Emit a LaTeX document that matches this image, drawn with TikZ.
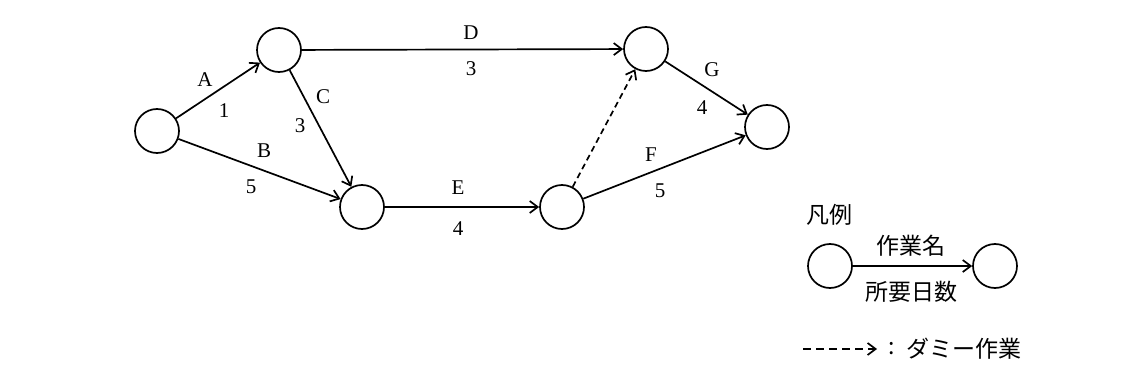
\documentclass[tikz,border=0pt]{standalone}
\usepackage{fontspec}
\setmainfont{Liberation Serif}
\newfontfamily\cjk{Noto Sans CJK JP}
\usetikzlibrary{arrows.meta}
\begin{document}
\begin{tikzpicture}[x=1pt,y=-1pt,
  ev/.style={circle,draw,line width=1.7pt,minimum size=44pt,inner sep=0pt},
  act/.style={line width=1.7pt,-{Straight Barb[length=8pt,width=12pt,line width=1.7pt]}},
  dum/.style={act,dash pattern=on 6pt off 4pt},
  lbl/.style={font=\fontsize{21}{21}\selectfont,inner sep=0pt},
  jl/.style={font=\cjk\fontsize{23}{23}\selectfont,inner sep=0pt}]
\useasboundingbox (0,0) rectangle (1126,377);
\node[ev] (n1) at (157,131) {};
\node[ev] (n2) at (279,50) {};
\node[ev] (n3) at (362,207) {};
\node[ev] (n4) at (562,207) {};
\node[ev] (n5) at (646,49) {};
\node[ev] (n6) at (767,127) {};
\draw[act] (n1) -- (n2);
\draw[act] (n1) -- (n3);
\draw[act] (n2) -- (n3);
\draw[act] (n2) -- (n5);
\draw[act] (n3) -- (n4);
\draw[act] (n4) -- (n6);
\draw[act] (n5) -- (n6);
\draw[dum] (n4) -- (n5);
\node[lbl] (la) at (205,80) {A};
\node[lbl] (l1) at (224,111) {1};
\node[lbl] (lb) at (264,151) {B};
\node[lbl] (l5) at (251,187) {5};
\node[lbl] (lc) at (323,97) {C};
\node[lbl] (l3) at (300,126) {3};
\node[lbl] (ld) at (471,33) {D};
\node[lbl] (l3b) at (471,69) {3};
\node[lbl] (le) at (458,188) {E};
\node[lbl] (l4) at (458,229) {4};
\node[lbl] (lf) at (651,155) {F};
\node[lbl] (l5b) at (660,191) {5};
\node[lbl] (lg) at (712,70) {G};
\node[lbl] (l4b) at (702,108) {4};
% legend
\node[jl] (leg) at (829,215) {凡例};
\node[ev] (m1) at (830,266) {};
\node[ev] (m2) at (995,266) {};
\draw[act] (m1) -- (m2);
\node[jl] (wn) at (911,246) {作業名};
\node[jl] (wd) at (911,292) {所要日数};
\coordinate (d1) at (803,349);
\coordinate (d2) at (877,349);
\draw[dum,line width=2.2pt,dash pattern=on 8pt off 5pt] (d1) -- (d2);
\node[jl] (col) at (892,349) {:};
\node[jl,anchor=west] (dm) at (906,349) {ダミー作業};
\end{tikzpicture}
\end{document}
